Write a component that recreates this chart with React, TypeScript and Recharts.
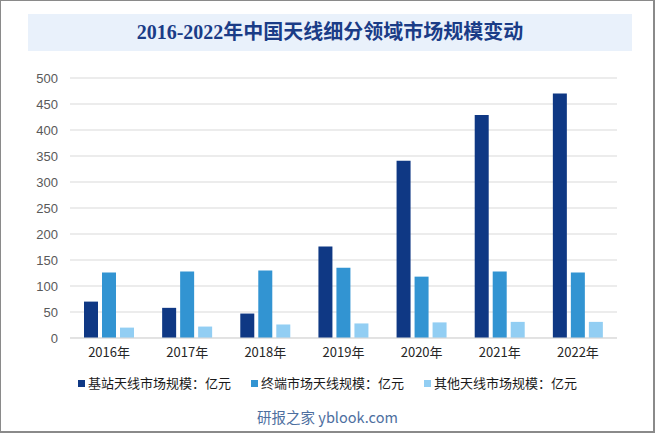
import React from "react";
import { BarChart, Bar, XAxis, YAxis, CartesianGrid } from "recharts";

const years = ["2016年", "2017年", "2018年", "2019年", "2020年", "2021年", "2022年"];
const baseStation = [70, 58, 47, 176, 341, 429, 470];
const terminal = [126, 128, 130, 135, 118, 128, 126];
const others = [20, 22, 26, 28, 30, 31, 31];
const yTicks = [0, 50, 100, 150, 200, 250, 300, 350, 400, 450, 500];

const seriesNames = ["基站天线市场规模：亿元", "终端市场天线规模：亿元", "其他天线市场规模：亿元"];
const seriesColors = ["#0F3884", "#3294D2", "#92CEF3"];

const data = years.map((y, i) => ({
  year: y,
  base: baseStation[i],
  terminal: terminal[i],
  others: others[i],
}));

const cjk = '"Noto Sans CJK SC", "Noto Sans", sans-serif';

export default function App() {
  return (
    <div style={{ position: "absolute", left: 0, top: 0, width: 655, height: 433, background: "#fff", overflow: "hidden" }}>
      <div
        style={{
          position: "absolute",
          left: 28,
          top: 14,
          width: 604,
          height: 37,
          background: "#E9F1FB",
          color: "#1A3C87",
          fontFamily: '"Liberation Serif", "Noto Sans CJK SC", serif',
          fontWeight: "bold",
          fontSize: 20,
          lineHeight: "37px",
          textAlign: "center",
        }}
      >
        2016-2022年中国天线细分领域市场规模变动
      </div>
      <div style={{ position: "absolute", left: 0, top: 0 }}>
        <BarChart
          width={655}
          height={433}
          data={data}
          margin={{ top: 78, right: 38, left: 0, bottom: 65 }}
          barSize={14}
          barGap={4}
        >
          <CartesianGrid vertical={false} stroke="#D9D9D9" strokeWidth={1} />
          <XAxis
            dataKey="year"
            height={30}
            axisLine={{ stroke: "#D9D9D9" }}
            tickLine={false}
            tickSize={0}
            tickMargin={10}
            tick={{ fill: "#262626", fontSize: 13, fontFamily: cjk }}
            interval={0}
          />
          <YAxis
            width={70}
            domain={[0, 500]}
            ticks={yTicks}
            axisLine={false}
            tickLine={false}
            tickSize={0}
            tickMargin={12}
            interval={0}
            tick={{ fill: "#595959", fontSize: 13, fontFamily: '"Liberation Sans", Arial, sans-serif' }}
          />
          <Bar dataKey="base" name={seriesNames[0]} fill={seriesColors[0]} isAnimationActive={false} />
          <Bar dataKey="terminal" name={seriesNames[1]} fill={seriesColors[1]} isAnimationActive={false} />
          <Bar dataKey="others" name={seriesNames[2]} fill={seriesColors[2]} isAnimationActive={false} />
        </BarChart>
      </div>
      <div
        style={{
          position: "absolute",
          left: 78,
          top: 374,
          display: "flex",
          alignItems: "center",
          fontFamily: cjk,
          fontSize: 13,
          color: "#1A1A1A",
          whiteSpace: "nowrap",
        }}
      >
        {seriesNames.map((n, i) => (
          <div key={n} style={{ display: "flex", alignItems: "center", marginRight: 20 }}>
            <span style={{ display: "inline-block", width: 7, height: 7, background: seriesColors[i], marginRight: 3 }} />
            <span style={{ lineHeight: "18px" }}>{n}</span>
          </div>
        ))}
      </div>
      <div
        style={{
          position: "absolute",
          left: 0,
          width: 655,
          top: 407,
          textAlign: "center",
          fontFamily: cjk,
          fontSize: 14.5,
          lineHeight: "20px",
          color: "#4E6F9F",
        }}
      >
        研报之家 yblook.com
      </div>
      <div
        style={{
          position: "absolute",
          left: 0,
          top: 0,
          width: 655,
          height: 433,
          boxSizing: "border-box",
          borderTop: "1px solid #8A8A8A",
          borderLeft: "1px solid #8A8A8A",
          borderRight: "2px solid #8A8A8A",
          borderBottom: "2px solid #8A8A8A",
          pointerEvents: "none",
        }}
      />
    </div>
  );
}
